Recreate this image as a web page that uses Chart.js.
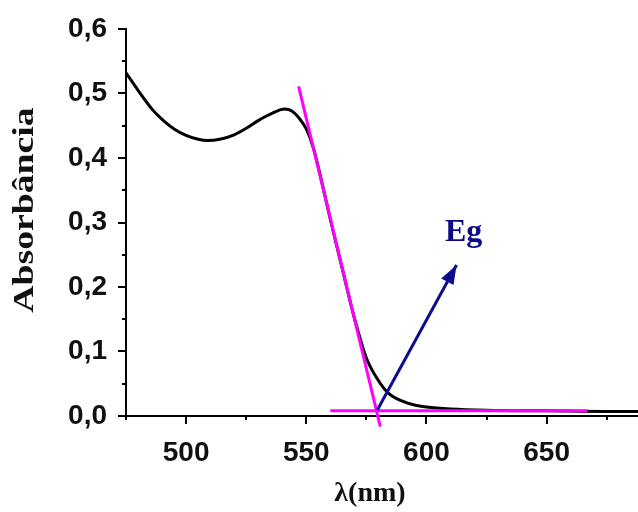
<!DOCTYPE html>
<html>
<head>
<meta charset="utf-8">
<script src="https://cdn.jsdelivr.net/npm/chart.js@4.4.1/dist/chart.umd.min.js"></script>
<style>
body { margin: 0; background: #fff; }
canvas { display: block; }
</style>
</head>
<body>
<canvas id="chart" width="638" height="512"></canvas>
<script>
// absorption spectrum
const wavelength = [475, 480, 486, 490, 495, 500, 505, 509, 514, 520, 525, 530, 535, 541, 544, 547, 550, 553, 556, 560, 565, 570, 575, 580, 584, 590, 595, 600, 610, 625, 650, 675, 690];
const absorbance = [0.532, 0.505, 0.475, 0.460, 0.445, 0.435, 0.429, 0.427, 0.429, 0.436, 0.446, 0.458, 0.468, 0.476, 0.473, 0.462, 0.445, 0.415, 0.370, 0.305, 0.228, 0.152, 0.090, 0.055, 0.036, 0.023, 0.017, 0.014, 0.011, 0.009, 0.008, 0.007, 0.007];

// tangent lines used for the band gap
const tangentX = [546.8, 580.8];
const tangentY = [0.511, -0.0166];
const baselineX = [560, 667];
const baselineY = [0.008, 0.008];

// arrow pointing at the intersection
const arrowX = [579.5, 612.5];
const arrowY = [0.009, 0.234];

const xMajor = [500, 550, 600, 650];
const xMinor = [475, 525, 575, 625, 675];
const yMajor = [0, 0.1, 0.2, 0.3, 0.4, 0.5, 0.6];
const yMinor = [0.05, 0.15, 0.25, 0.35, 0.45, 0.55];

function points(xs, ys) {
    return xs.map((x, i) => ({ x: x, y: ys[i] }));
}

// tick marks, titles and arrow head
const decorations = {
    id: "decorations",
    afterDraw(chart) {
        const ctx = chart.ctx;
        const xs = chart.scales.x;
        const ys = chart.scales.y;
        const area = chart.chartArea;
        ctx.save();
        ctx.strokeStyle = "#000";
        ctx.lineWidth = 2;
        ctx.beginPath();
        xMajor.concat(xMinor).forEach(v => {
            const px = Math.round(xs.getPixelForValue(v));
            const len = xMajor.includes(v) ? 8 : 4;
            ctx.moveTo(px, area.bottom);
            ctx.lineTo(px, area.bottom + len);
        });
        yMajor.concat(yMinor).forEach(v => {
            const py = Math.round(ys.getPixelForValue(v));
            const len = yMajor.includes(v) ? 8 : 4;
            ctx.moveTo(area.left, py);
            ctx.lineTo(area.left - len, py);
        });
        ctx.stroke();

        // arrow head
        const tx = xs.getPixelForValue(arrowX[1]);
        const ty = ys.getPixelForValue(arrowY[1]);
        const bx = xs.getPixelForValue(arrowX[0]);
        const by = ys.getPixelForValue(arrowY[0]);
        const ang = Math.atan2(ty - by, tx - bx);
        const hl = 19, hw = 7;
        ctx.fillStyle = "#0c0c8c";
        ctx.beginPath();
        ctx.moveTo(tx, ty);
        ctx.lineTo(tx - hl * Math.cos(ang) + hw * Math.sin(ang), ty - hl * Math.sin(ang) - hw * Math.cos(ang));
        ctx.lineTo(tx - hl * Math.cos(ang) - hw * Math.sin(ang), ty - hl * Math.sin(ang) + hw * Math.cos(ang));
        ctx.closePath();
        ctx.fill();

        // label
        ctx.font = "bold 32px 'Liberation Serif', serif";
        ctx.fillStyle = "#0a0a8a";
        ctx.textAlign = "left";
        ctx.textBaseline = "alphabetic";
        ctx.fillText("Eg", 445, 241);

        // axis titles
        ctx.fillStyle = "#111";
        ctx.font = "bold 28px 'Liberation Serif', serif";
        ctx.textAlign = "center";
        ctx.textBaseline = "middle";
        ctx.fillText("λ(nm)", 370, 494);

        ctx.translate(26, 210);
        ctx.rotate(-Math.PI / 2);
        ctx.scale(1.3, 1);
        ctx.font = "bold 29px 'Liberation Serif', serif";
        ctx.fillText("Absorbância", 0, 0);
        ctx.restore();
    }
};

const tickFont = { family: "'Liberation Sans', Arial, sans-serif", size: 28, weight: "bold" };

new Chart(document.getElementById("chart").getContext("2d"), {
    type: "line",
    data: {
        datasets: [
            {
                data: points(arrowX, arrowY),
                borderColor: "#0c0c8c",
                borderWidth: 3,
                pointRadius: 0,
                order: 1
            },
            {
                data: points(tangentX, tangentY),
                borderColor: "#ff00ff",
                borderWidth: 3,
                pointRadius: 0,
                clip: false,
                order: 2
            },
            {
                data: points(baselineX, baselineY),
                borderColor: "#ff00ff",
                borderWidth: 3,
                pointRadius: 0,
                order: 2
            },
            {
                data: points(wavelength, absorbance),
                borderColor: "#000",
                borderWidth: 3,
                pointRadius: 0,
                cubicInterpolationMode: "monotone",
                order: 3
            }
        ]
    },
    options: {
        responsive: false,
        animation: false,
        layout: { padding: { top: 29, right: 0, left: 0, bottom: 0 } },
        plugins: {
            legend: { display: false },
            tooltip: { enabled: false }
        },
        scales: {
            x: {
                type: "linear",
                min: 475,
                max: 688,
                grid: { display: false },
                border: { display: true, color: "#000", width: 2 },
                ticks: {
                    stepSize: 25,
                    autoSkip: false,
                    maxRotation: 0,
                    padding: 12,
                    color: "#111",
                    font: tickFont,
                    callback: v => (v % 50 === 0 ? String(v) : "")
                },
                afterFit: scale => {
                    scale.height = 96;
                    scale.paddingRight = 0;
                    scale.paddingLeft = 0;
                }
            },
            y: {
                min: 0,
                max: 0.6,
                grid: { display: false },
                border: { display: true, color: "#000", width: 2 },
                ticks: {
                    stepSize: 0.1,
                    padding: 11,
                    color: "#111",
                    font: tickFont,
                    callback: v => v.toFixed(1).replace(".", ",")
                },
                afterFit: scale => { scale.width = 126; }
            }
        }
    },
    plugins: [decorations]
});
</script>
</body>
</html>
